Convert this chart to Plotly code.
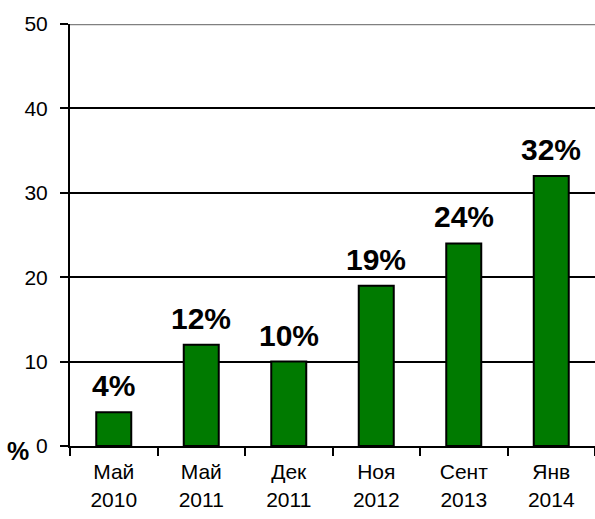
import plotly.graph_objects as go

categories = ["Май<br>2010", "Май<br>2011", "Дек<br>2011", "Ноя<br>2012", "Сент<br>2013", "Янв<br>2014"]
values = [4, 12, 10, 19, 24, 32]
labels = [f"{v}%" for v in values]

fig = go.Figure()
fig.add_trace(go.Bar(
    x=categories, y=values,
    marker=dict(color="#007A00", line=dict(color="black", width=2)),
    width=0.4,
    cliponaxis=False,
))

# value labels above each bar
for c, v, t in zip(categories, values, labels):
    fig.add_annotation(x=c, y=v, text=f"<b>{t}</b>", showarrow=False,
                       xanchor="center", yanchor="bottom", yshift=8,
                       font=dict(family="Arial", size=30, color="black"))

fig.update_layout(
    width=595, height=519,
    margin=dict(l=70, r=0, t=24, b=73),
    paper_bgcolor="white", plot_bgcolor="white",
    showlegend=False,
    font=dict(family="Arial", color="black"),
)
fig.update_xaxes(
    type="category", tickson="boundaries",
    showline=True, linecolor="black", linewidth=2,
    ticks="outside", ticklen=8, tickwidth=2, tickcolor="black",
    tickfont=dict(size=21, family="Arial", color="black"),
    ticklabelstandoff=6,
    showgrid=False,
)
fig.update_yaxes(
    range=[0, 50], tickvals=[0, 10, 20, 30, 40, 50],
    showline=True, linecolor="black", linewidth=2,
    ticks="outside", ticklen=8, tickwidth=2, tickcolor="black",
    tickfont=dict(size=21, family="Arial", color="black"),
    ticklabelstandoff=8,
    showgrid=True, gridcolor="black", gridwidth=1.5,
    zeroline=False,
)
# top border line in grey
fig.add_shape(type="line", xref="paper", yref="y", x0=0, x1=1, y0=50, y1=50,
              line=dict(color="#808080", width=2.5))
fig.add_annotation(text="<b>%</b>", xref="paper", yref="paper", x=-0.074, y=0,
                   xanchor="right", yanchor="middle", showarrow=False,
                   font=dict(size=25, family="Arial", color="black"), yshift=-5)

fig.write_html("out.html")
